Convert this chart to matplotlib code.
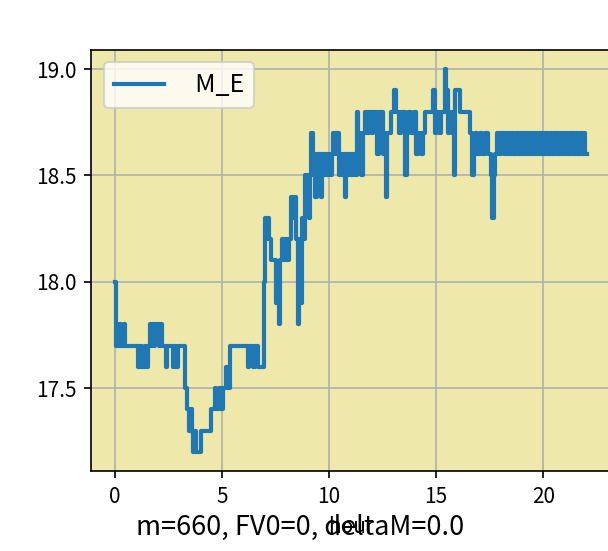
import matplotlib
matplotlib.use("Agg")
import matplotlib.pyplot as plt

# ── Data ──────────────────────────────────
hours = [
    0.00, 0.05, 0.10, 0.15, 0.25, 0.30, 0.45, 0.50, 1.07, 1.12,
    1.18, 1.25, 1.30, 1.40, 1.45, 1.55, 1.65, 1.70, 1.75, 1.85,
    1.90, 2.05, 2.10, 2.20, 2.40, 2.45, 2.70, 2.78, 2.85, 2.95,
    3.28, 3.38, 3.45, 3.55, 3.60, 3.65, 3.75, 3.80, 4.05, 4.50,
    4.70, 4.75, 4.85, 4.95, 5.05, 5.20, 5.30, 5.40, 6.20, 6.25,
    6.45, 6.55, 6.70, 6.97, 7.02, 7.10, 7.15, 7.22, 7.30, 7.55,
    7.65, 7.72, 7.80, 7.90, 8.00, 8.05, 8.15, 8.22, 8.30, 8.38,
    8.45, 8.55, 8.60, 8.65, 8.72, 8.80, 8.88, 8.95, 9.00, 9.05,
    9.10, 9.17, 9.25, 9.30, 9.35, 9.42, 9.50, 9.55, 9.62, 9.68,
    9.75, 9.82, 9.90, 9.98, 10.05, 10.12, 10.20, 10.30, 10.35, 10.45,
    10.55, 10.62, 10.68, 10.75, 10.80, 10.88, 10.95, 11.05, 11.12, 11.20,
    11.30, 11.35, 11.42, 11.50, 11.58, 11.68, 11.78, 11.85, 12.00, 12.05,
    12.25, 12.35, 12.50, 12.58, 12.65, 12.70, 12.90, 13.05, 13.12, 13.25,
    13.35, 13.55, 13.62, 13.70, 13.85, 13.95, 14.05, 14.15, 14.30, 14.40,
    14.50, 14.85, 14.95, 15.00, 15.15, 15.25, 15.40, 15.48, 15.55, 15.62,
    15.75, 15.85, 15.90, 16.10, 16.60, 16.68, 16.75, 16.82, 16.90, 17.05,
    17.15, 17.30, 17.40, 17.55, 17.62, 17.68, 17.75, 17.85, 17.95, 18.05,
    18.15, 18.22, 18.30, 18.40, 18.48, 18.55, 18.65, 18.75, 18.82, 18.90,
    19.00, 19.10, 19.18, 19.25, 19.35, 19.45, 19.52, 19.60, 19.70, 19.80,
    19.88, 19.95, 20.05, 20.15, 20.22, 20.30, 20.40, 20.50, 20.58, 20.65,
    20.75, 20.85, 20.92, 21.00, 21.10, 21.20, 21.28, 21.35, 21.45, 21.55,
    21.62, 21.70, 21.80, 21.90, 21.97, 22.04,
]
M_E = [
    18.0, 17.7, 17.8, 17.7, 17.8, 17.7, 17.8, 17.7, 17.6, 17.7,
    17.6, 17.7, 17.6, 17.7, 17.6, 17.7, 17.8, 17.7, 17.8, 17.7,
    17.8, 17.7, 17.8, 17.7, 17.6, 17.7, 17.6, 17.7, 17.6, 17.7,
    17.5, 17.4, 17.3, 17.4, 17.3, 17.2, 17.3, 17.2, 17.3, 17.4,
    17.5, 17.4, 17.5, 17.4, 17.5, 17.6, 17.5, 17.7, 17.6, 17.7,
    17.6, 17.7, 17.6, 18.0, 18.3, 18.2, 18.3, 18.2, 18.1, 17.9,
    17.8, 18.1, 18.2, 18.1, 18.2, 18.1, 18.2, 18.4, 18.3, 18.4,
    18.2, 17.8, 18.2, 17.9, 18.3, 18.2, 18.5, 18.4, 18.5, 18.3,
    18.5, 18.7, 18.5, 18.6, 18.4, 18.6, 18.5, 18.6, 18.4, 18.6,
    18.5, 18.6, 18.5, 18.6, 18.5, 18.6, 18.7, 18.6, 18.7, 18.5,
    18.6, 18.5, 18.6, 18.4, 18.6, 18.5, 18.6, 18.5, 18.6, 18.5,
    18.8, 18.6, 18.7, 18.5, 18.7, 18.8, 18.7, 18.8, 18.7, 18.8,
    18.6, 18.8, 18.6, 18.7, 18.4, 18.7, 18.8, 18.9, 18.8, 18.7,
    18.8, 18.5, 18.7, 18.8, 18.7, 18.8, 18.6, 18.7, 18.6, 18.7,
    18.8, 18.9, 18.7, 18.8, 18.7, 18.8, 19.0, 18.9, 18.7, 18.8,
    18.7, 18.5, 18.9, 18.8, 18.7, 18.5, 18.6, 18.7, 18.6, 18.7,
    18.6, 18.7, 18.6, 18.5, 18.3, 18.5, 18.6, 18.7, 18.6, 18.7,
    18.6, 18.7, 18.6, 18.7, 18.6, 18.7, 18.6, 18.7, 18.6, 18.7,
    18.6, 18.7, 18.6, 18.7, 18.6, 18.7, 18.6, 18.7, 18.6, 18.7,
    18.6, 18.7, 18.6, 18.7, 18.6, 18.7, 18.6, 18.7, 18.6, 18.7,
    18.6, 18.7, 18.6, 18.7, 18.6, 18.7, 18.6, 18.7, 18.6, 18.7,
    18.6, 18.7, 18.6, 18.7, 18.6, 18.6,
]
m, FV0, deltaM = 660, 0, 0.0

# ── Plot ──────────────────────────────────
plt.rcParams['font.family'] = ['Noto Sans CJK SC', 'DejaVu Sans']
plt.rcParams['axes.unicode_minus'] = False

fig = plt.figure(figsize=(608 / 150, 551 / 150), dpi=150)
ax = fig.add_axes([0.1497, 0.1452, 0.8546, 0.7641])
ax.set_facecolor('palegoldenrod')
ax.plot(hours, M_E, drawstyle='steps-post', color='tab:blue', lw=2.0, label='  M_E')
ax.grid(True)
ax.set_xticks([0, 5, 10, 15, 20])
ax.set_yticks([17.5, 18.0, 18.5, 19.0])
ax.set_xlabel('hour')
ax.legend(loc='upper left', fontsize=12)

fig.text(0.494, 0.0436, f'm={m}, FV0={FV0}, deltaM={deltaM}',
         ha='center', va='center', fontsize=13)

fig.savefig('out.png', dpi=150)
